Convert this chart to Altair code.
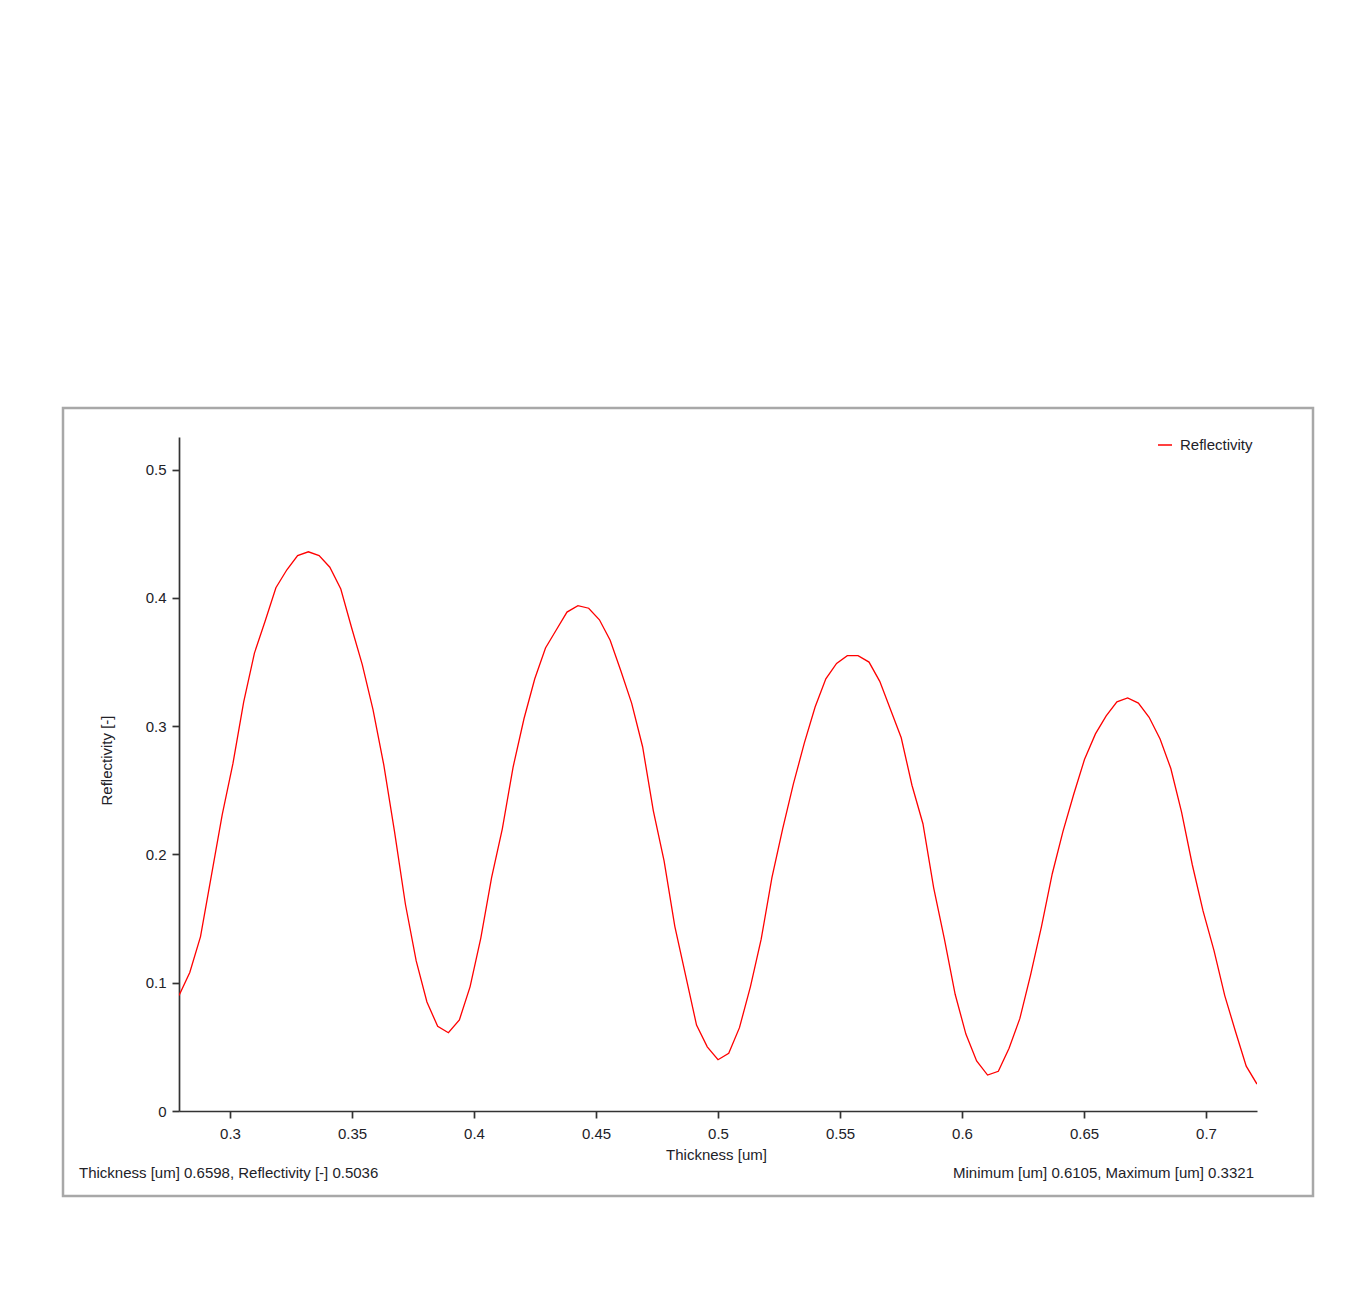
import altair as alt
import pandas as pd

# ---- data ----
thickness = [0.2791, 0.2835, 0.2879, 0.2923, 0.2968, 0.3012, 0.3056, 0.3100, 0.3144, 0.3188,
             0.3233, 0.3277, 0.3321, 0.3365, 0.3409, 0.3454, 0.3498, 0.3542, 0.3586, 0.3630,
             0.3674, 0.3719, 0.3763, 0.3807, 0.3851, 0.3895, 0.3940, 0.3984, 0.4028, 0.4072,
             0.4116, 0.4160, 0.4205, 0.4249, 0.4293, 0.4337, 0.4381, 0.4426, 0.4470, 0.4514,
             0.4558, 0.4602, 0.4646, 0.4691, 0.4735, 0.4779, 0.4823, 0.4867, 0.4912, 0.4956,
             0.5000, 0.5044, 0.5088, 0.5133, 0.5177, 0.5221, 0.5265, 0.5309, 0.5354, 0.5398,
             0.5442, 0.5486, 0.5530, 0.5574, 0.5619, 0.5663, 0.5707, 0.5751, 0.5795, 0.5840,
             0.5884, 0.5928, 0.5972, 0.6016, 0.6060, 0.6105, 0.6149, 0.6193, 0.6237, 0.6281,
             0.6326, 0.6370, 0.6414, 0.6458, 0.6502, 0.6547, 0.6591, 0.6635, 0.6679, 0.6723,
             0.6767, 0.6812, 0.6856, 0.6900, 0.6944, 0.6988, 0.7033, 0.7077, 0.7121, 0.7165,
             0.7209]
reflectivity = [0.090, 0.108, 0.136, 0.183, 0.231, 0.271, 0.319, 0.357, 0.382, 0.408,
                0.422, 0.433, 0.436, 0.433, 0.424, 0.407, 0.377, 0.348, 0.313, 0.270,
                0.218, 0.161, 0.117, 0.085, 0.066, 0.061, 0.071, 0.097, 0.135, 0.182,
                0.220, 0.268, 0.306, 0.337, 0.361, 0.375, 0.389, 0.394, 0.392, 0.383,
                0.367, 0.343, 0.318, 0.284, 0.234, 0.195, 0.144, 0.106, 0.067, 0.050,
                0.040, 0.045, 0.065, 0.097, 0.134, 0.182, 0.220, 0.255, 0.287, 0.315,
                0.337, 0.349, 0.355, 0.355, 0.350, 0.335, 0.313, 0.291, 0.254, 0.224,
                0.174, 0.134, 0.091, 0.060, 0.039, 0.028, 0.031, 0.049, 0.072, 0.106,
                0.144, 0.185, 0.218, 0.247, 0.274, 0.294, 0.308, 0.319, 0.322, 0.318,
                0.307, 0.290, 0.267, 0.233, 0.192, 0.156, 0.125, 0.090, 0.062, 0.035,
                0.021]
series_name = "Reflectivity"
x_range = [0.279082, 0.720918]
y_range = [0.0, 0.5255]
x_ticks = [0.3, 0.35, 0.4, 0.45, 0.5, 0.55, 0.6, 0.65, 0.7]
y_ticks = [0.0, 0.1, 0.2, 0.3, 0.4, 0.5]
cursor_text = ["Thickness [um] 0.6598, Reflectivity [-] 0.5036"]
minmax_text = ["Minimum [um] 0.6105, Maximum [um] 0.3321"]

FONT = "Liberation Sans"
FS = 15
TXT = "#222228"
AX = "#333333"

df = pd.DataFrame({"Thickness": thickness, "Reflectivity": reflectivity,
                   "Series": [series_name] * len(thickness)})

line = alt.Chart(df).mark_line(strokeWidth=1.3, clip=True).encode(
    x=alt.X("Thickness:Q",
            scale=alt.Scale(domain=x_range, nice=False, zero=False),
            axis=alt.Axis(values=x_ticks, format="~g", title="Thickness [um]",
                          titleX=537, titleY=43, titleBaseline="middle", titleAlign="center")),
    y=alt.Y("Reflectivity:Q",
            scale=alt.Scale(domain=y_range, nice=False, zero=True),
            axis=alt.Axis(values=y_ticks, format="~g", title="Reflectivity [-]",
                          titleX=-73, titleY=323, titleAngle=-90,
                          titleBaseline="middle", titleAlign="center")),
    color=alt.Color("Series:N", scale=alt.Scale(range=["#ff0000"]),
                    legend=alt.Legend(title=None, orient="none", legendX=978, legendY=0,
                                      padding=0, symbolType="stroke", symbolSize=196,
                                      symbolStrokeWidth=1.5, labelOffset=7,
                                      labelFont=FONT, labelFontSize=FS, labelColor=TXT)),
)

frame_df = pd.DataFrame({"k": [1]})
frame = alt.Chart(frame_df).mark_rect(filled=False, stroke="#a8a8a8", strokeWidth=2.5).encode(
    x=alt.value(-116), x2=alt.value(1134), y=alt.value(-29), y2=alt.value(759)
)

status_left = alt.Chart(pd.DataFrame({"t": cursor_text})).mark_text(
    align="left", baseline="middle", font=FONT, fontSize=FS, color=TXT
).encode(text="t:N", x=alt.value(-100), y=alt.value(736))

status_right = alt.Chart(pd.DataFrame({"t": minmax_text})).mark_text(
    align="right", baseline="middle", font=FONT, fontSize=FS, color=TXT
).encode(text="t:N", x=alt.value(1075), y=alt.value(736))

chart = alt.layer(frame, line, status_left, status_right).properties(
    width=1078, height=674,
    autosize=alt.AutoSizeParams(type="none"),
    padding={"left": 171, "top": 429, "right": 83, "bottom": 174},
    background="white",
).configure_view(stroke=None).configure_axis(
    grid=False, domainColor=AX, domainWidth=1.7, tickColor=AX, tickWidth=1.7, tickSize=7,
    labelFont=FONT, labelFontSize=FS, labelColor=TXT,
    titleFont=FONT, titleFontSize=FS, titleFontWeight="normal", titleColor=TXT,
).configure_axisX(labelPadding=8).configure_axisY(labelPadding=6)

chart.save("out.html", embed_options={"renderer": "svg", "actions": False})
